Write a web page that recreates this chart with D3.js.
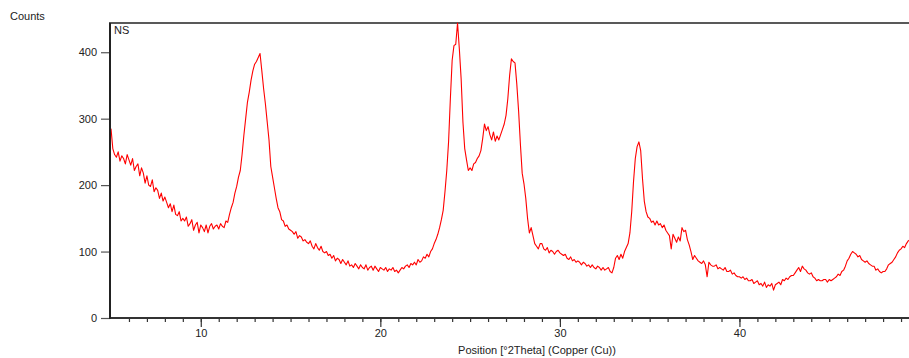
<!DOCTYPE html>
<html>
<head>
<meta charset="utf-8">
<script src="https://cdn.jsdelivr.net/npm/d3@7"></script>
<style>
  body { margin: 0; background: #fff; }
  svg text { font-family: "Liberation Sans", Arial, sans-serif; font-size: 11px; fill: #222; }
</style>
</head>
<body>
<svg id="chart" width="909" height="358"></svg>
<script>
// Scan start / step (degrees 2Theta)
const startAngle = 5.0;
const stepAngle = 0.1;

// Counts per step (one row per degree)
const counts = [
  285, 255, 246, 242, 250, 236, 244, 240, 232, 246,
  238, 230, 240, 222, 228, 232, 214, 226, 218, 203,
  214, 200, 198, 208, 190, 196, 192, 180, 188, 176,
  182, 174, 166, 172, 160, 170, 156, 154, 160, 146,
  150, 146, 152, 138, 142, 148, 132, 140, 144, 128,
  140, 136, 130, 140, 128, 138, 142, 134, 138, 140,
  134, 142, 138, 136, 146, 144, 156, 166, 174, 188,
  198, 212, 222, 246, 275, 300, 325, 340, 358, 372,
  382, 386, 392, 398, 372, 345, 322, 295, 268, 228,
  212, 196, 180, 166, 160, 148, 146, 138, 140, 134,
  132, 130, 126, 130, 120, 124, 122, 116, 118, 114,
  112, 116, 108, 104, 112, 106, 102, 108, 100, 98,
  100, 94, 96, 90, 94, 86, 90, 88, 82, 88,
  84, 80, 86, 78, 80, 76, 82, 78, 74, 80,
  76, 74, 80, 72, 76, 78, 72, 78, 74, 70,
  76, 74, 72, 76, 70, 74, 72, 76, 70, 72,
  68, 72, 76, 74, 78, 80, 76, 82, 80, 84,
  80, 88, 84, 86, 92, 90, 96, 92, 100, 104,
  112, 118, 126, 136, 148, 162, 190, 222, 265, 330,
  388, 410, 412, 444, 405, 360, 295, 255, 238, 222,
  226, 222, 232, 234, 240, 244, 252, 270, 292, 282,
  288, 276, 268, 280, 266, 274, 268, 276, 284, 292,
  305, 330, 365, 390, 386, 384, 352, 312, 262, 218,
  202, 180, 150, 128, 136, 124, 112, 108, 104, 112,
  112, 104, 102, 106, 98, 102, 100, 96, 100, 102,
  98, 96, 94, 96, 90, 88, 92, 86, 88, 84,
  86, 84, 80, 84, 82, 78, 80, 76, 80, 76,
  74, 78, 76, 72, 76, 72, 74, 76, 70, 68,
  76, 90, 94, 88, 96, 90, 100, 106, 112, 128,
  160, 205, 240, 258, 265, 252, 210, 176, 160, 152,
  150, 144, 146, 140, 146, 140, 142, 136, 140, 132,
  128, 124, 104, 126, 120, 114, 122, 116, 136, 130,
  132, 118, 110, 100, 88, 94, 90, 86, 84, 82,
  86, 80, 62, 84, 80, 78, 78, 80, 74, 76,
  74, 72, 76, 70, 70, 72, 66, 68, 64, 62,
  62, 60, 62, 58, 60, 56, 56, 58, 52, 54,
  56, 50, 52, 48, 54, 46, 50, 48, 52, 42,
  50, 52, 54, 50, 58, 56, 60, 58, 62, 64,
  64, 68, 72, 76, 70, 78, 74, 72, 68, 66,
  68, 62, 60, 56, 58, 56, 56, 58, 58, 54,
  58, 56, 58, 60, 62, 66, 64, 70, 72, 78,
  86, 90, 96, 100, 98, 96, 92, 94, 88, 86,
  84, 86, 82, 80, 78, 78, 72, 74, 70, 68,
  70, 70, 74, 80, 82, 84, 88, 92, 98, 102,
  104, 108, 106, 112, 116, 118
];

// Axis ticks
const xMajorTicks = [10, 20, 30, 40];
const yTicks = [0, 100, 200, 300, 400];

const svg = d3.select("#chart");
const plotLeft = 111, plotTop = 23, plotBottom = 318;

const x = d3.scaleLinear().domain([5, 50]).range([plotLeft, 919]);
const y = d3.scaleLinear().domain([0, 444]).range([plotBottom, plotTop]);

const points = counts.map((c, i) => [startAngle + i * stepAngle, c]);

svg.append("defs").append("clipPath").attr("id", "plot-clip")
  .append("rect")
  .attr("x", plotLeft).attr("y", plotTop - 1)
  .attr("width", 909 - plotLeft).attr("height", plotBottom - plotTop + 1);

// Y axis (ticks outward, no domain path)
const yAxis = svg.append("g")
  .attr("transform", `translate(${plotLeft - 1},0)`)
  .call(d3.axisLeft(y).tickValues(yTicks).tickSize(9).tickPadding(4));
yAxis.select(".domain").remove();
yAxis.selectAll("line").attr("stroke", "#555").attr("stroke-width", 1.2);
yAxis.selectAll("text").attr("fill", "#222").style("font-size", "11px")
  .style("font-family", "'Liberation Sans', Arial, sans-serif");

// X axis: minor ticks each degree, major ticks every 10
const xAxisMinor = svg.append("g")
  .attr("transform", `translate(0,${plotBottom})`)
  .call(d3.axisBottom(x).tickValues(d3.range(6, 50)).tickSize(4).tickFormat(""));
xAxisMinor.select(".domain").remove();
xAxisMinor.selectAll("line").attr("stroke", "#333").attr("stroke-width", 1.2);

const xAxis = svg.append("g")
  .attr("transform", `translate(0,${plotBottom})`)
  .call(d3.axisBottom(x).tickValues(xMajorTicks).tickSize(9).tickPadding(2));
xAxis.select(".domain").remove();
xAxis.selectAll("line").attr("stroke", "#333").attr("stroke-width", 1.2);
xAxis.selectAll("text").attr("fill", "#222").style("font-size", "11px")
  .style("font-family", "'Liberation Sans', Arial, sans-serif");

// Frame lines
svg.append("line")
  .attr("x1", plotLeft).attr("x2", 909).attr("y1", plotTop).attr("y2", plotTop)
  .attr("stroke", "#222").attr("stroke-width", 1.5);
svg.append("line")
  .attr("x1", plotLeft - 1).attr("x2", 909).attr("y1", plotBottom).attr("y2", plotBottom)
  .attr("stroke", "#333").attr("stroke-width", 2);
svg.append("line")
  .attr("x1", plotLeft - 1).attr("x2", plotLeft - 1).attr("y1", plotTop - 0.75).attr("y2", plotBottom + 1)
  .attr("stroke", "#222").attr("stroke-width", 2);

// Pattern
svg.append("path")
  .datum(points)
  .attr("clip-path", "url(#plot-clip)")
  .attr("fill", "none")
  .attr("stroke", "#ff0000")
  .attr("stroke-width", 1.1)
  .attr("stroke-linejoin", "round")
  .attr("d", d3.line().x(d => x(d[0])).y(d => y(d[1])));

// Labels
svg.append("text").attr("x", 10).attr("y", 20).text("Counts");
svg.append("text").attr("x", 114).attr("y", 34).text("NS");
svg.append("text")
  .attr("x", 537).attr("y", 354)
  .attr("text-anchor", "middle")
  .text("Position [°2Theta] (Copper (Cu))");
</script>
</body>
</html>
